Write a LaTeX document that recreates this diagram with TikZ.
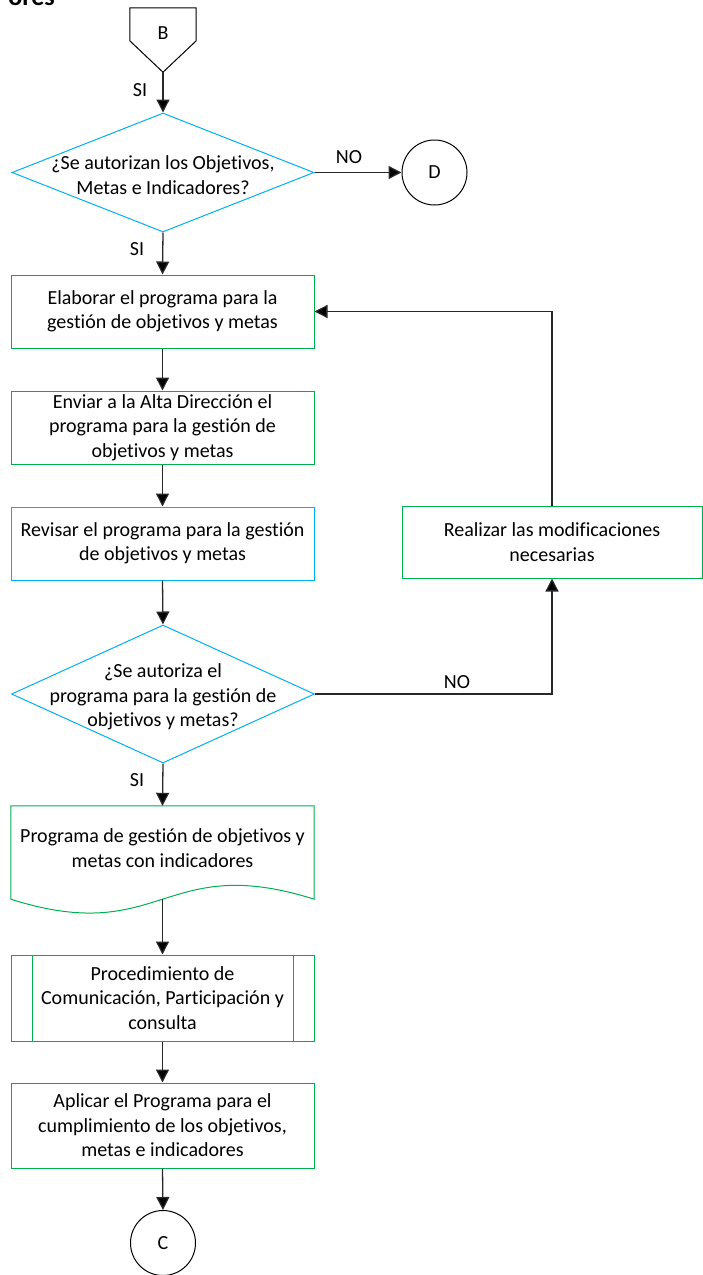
\documentclass[tikz,border=0pt]{standalone}
\usepackage{fontspec}
\setmainfont[Ligatures=NoCommon]{Carlito}
\usetikzlibrary{arrows.meta,shapes.geometric,calc}
\definecolor{vgreen}{RGB}{0,176,80}
\definecolor{vblue}{RGB}{0,176,240}
\definecolor{conncol}{RGB}{40,40,40}
\begin{document}
\begin{tikzpicture}[x=1pt,y=-1pt,
  txt/.style={font=\fontsize{20}{24.5}\selectfont, align=center, inner sep=0pt},
  boxg/.style={txt, draw=vgreen, line width=1pt, minimum width=303pt},
  boxb/.style={txt, draw=vblue, line width=1pt, minimum width=303pt},
  decision/.style={diamond, draw=vblue, line width=1pt, inner sep=0pt, minimum width=302pt},
  conn/.style={draw=conncol, line width=1.3pt, -{Triangle[length=13pt,width=13pt,fill=black]}},
  connector/.style={circle, draw, line width=1pt, minimum size=65pt, txt},
  lbl/.style={txt}]
\useasboundingbox (0,0) rectangle (703,1275);

% heading, cut by the page edge
\node[anchor=base east, inner sep=0pt, font=\fontsize{26}{30}\selectfont\bfseries] (head) at (55,5) {ores};

% off-page connector B
\node[minimum width=66pt, minimum height=64pt, inner sep=0pt] (B) at (163,40) {};
\draw[line width=1pt] (B.north west) -- (B.north east) -- ($(B.north east)+(0,33)$)
  -- (B.south) -- ($(B.north west)+(0,33)$) -- cycle;
\node[txt] (Btext) at (163,33) {B};

% first decision
\node[decision, minimum height=119pt] (dia1) at (163,172.5) {};
\node[txt] (dia1text) at (163,175) {¿Se autorizan los Objetivos,\\Metas e Indicadores?};

\node[connector] (D) at (434.5,172.5) {D};

% process steps
\node[boxg, minimum height=73pt] (elab) at (162.5,311.5) {Elaborar el programa para la\\gestión de objetivos y metas};
\node[boxg, minimum height=73pt] (envi) at (162.5,427.5) {Enviar a la Alta Dirección el\\programa para la gestión de\\objetivos y metas};
\node[boxb, minimum height=73pt] (revi) at (162.5,543.5) {Revisar el programa para la gestión\\de objetivos y metas};

\node[txt, draw=vgreen, line width=1pt, minimum width=300pt, minimum height=72pt] (real) at (552,542) {Realizar las modificaciones\\necesarias};

% second decision
\node[decision, minimum height=138pt, minimum width=303pt] (dia2) at (163,694) {};
\node[txt] (dia2text) at (163,697) {¿Se autoriza el\\programa para la gestión de\\objetivos y metas?};

% document
\node[minimum width=303pt, minimum height=93pt, inner sep=0pt] (doc) at (162.5,852.5) {};
\draw[vgreen, line width=1pt] (doc.south west) -- (doc.north west) -- (doc.north east) -- (doc.south east)
  .. controls ($(doc.south)+(0,-48)$) and ($(doc.south)+(0,48)$) .. (doc.south west);
\node[txt] (doctext) at (162.5,848) {Programa de gestión de objetivos y\\metas con indicadores};

% predefined process
\node[boxg, minimum height=86pt] (pred) at (162.5,998) {Procedimiento de\\Comunicación, Participación y\\consulta};
\draw[vgreen, line width=1pt] ($(pred.north west)+(22,0)$) -- ($(pred.south west)+(22,0)$);
\draw[vgreen, line width=1pt] ($(pred.north east)+(-21,0)$) -- ($(pred.south east)+(-21,0)$);

\node[boxg, minimum height=85pt] (apli) at (162.5,1125.5) {Aplicar el Programa para el\\cumplimiento de los objetivos,\\metas e indicadores};

\node[connector] (C) at (163,1243) {C};

% connectors
\draw[conn] (B.south) -- (dia1.north);
\node[lbl] (si1) at (140,90) {SI};
\draw[conn] (dia1.east) -- (D.west);
\node[lbl] (no1) at (349,157) {NO};
\draw[conn] (dia1.south) -- (elab.north);
\node[lbl] (si2) at (137,249) {SI};
\draw[conn] (elab.south) -- (envi.north);
\draw[conn] (envi.south) -- (revi.north);
\draw[conn] (revi.south) -- (dia2.north);
\draw[conn] (dia2.east) -| (real.south);
\node[lbl] (no2) at (457,682) {NO};
\draw[conn] (real.north) |- (elab.east);
\draw[conn] (dia2.south) -- (doc.north);
\node[lbl] (si3) at (137,780) {SI};
\draw[conn] (doc.south) -- (pred.north);
\draw[conn] (pred.south) -- (apli.north);
\draw[conn] (apli.south) -- (C.north);
\end{tikzpicture}
\end{document}
